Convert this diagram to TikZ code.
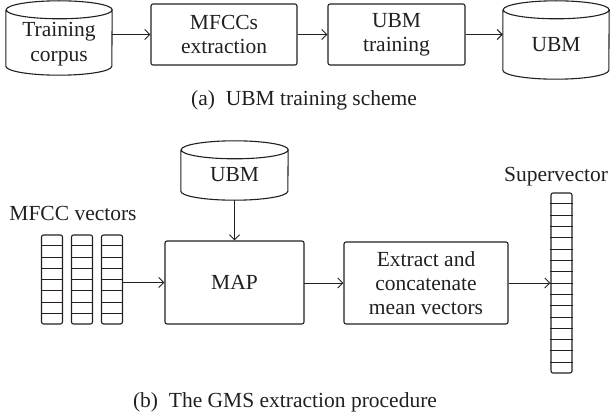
\documentclass[tikz,border=0pt]{standalone}
\usepackage{fontspec}
\setmainfont{Liberation Serif}
\usetikzlibrary{arrows.meta,calc}
\definecolor{ink}{HTML}{231F20}

\tikzset{
  txt/.style={text=ink, font=\fontsize{21.5}{24}\selectfont, align=center, inner sep=0pt},
  block/.style={txt, draw=ink, line width=1.1pt, rounded corners=2pt},
  shell/.style={txt, draw=none},
  rim/.style={draw=ink, line width=1.1pt},
  stackbox/.style={draw=ink, line width=1.1pt, rounded corners=2pt, inner sep=0pt, minimum width=21pt},
  cell/.style={draw=ink, line width=0.9pt},
  flow/.style={draw=ink, line width=1pt, -{Straight Barb[length=5pt,width=10pt,line width=1pt]}},
}

% outline of a drum: full top ellipse, straight sides, lower half-ellipse at the bottom
\newcommand\drum[3]{% node, x radius, y radius
  \draw[rim] ([yshift=-#3]#1.north west) -- ([yshift=#3]#1.south west)
    arc[start angle=180, end angle=360, x radius=#2, y radius=#3]
    -- ([yshift=-#3]#1.north east)
    arc[start angle=0, end angle=180, x radius=#2, y radius=#3]
    arc[start angle=180, end angle=360, x radius=#2, y radius=#3];
}
% horizontal dividers of a vector column
\newcommand\cells[2]{% node, number of cells
  \pgfmathtruncatemacro\lastcell{#2-1}
  \foreach \i in {1,...,\lastcell}
    \draw[cell] ($(#1.north west)!\i/#2!(#1.south west)$) -- ($(#1.north east)!\i/#2!(#1.south east)$);
}

\begin{document}
\begin{tikzpicture}[x=1pt, y=-1pt]
\useasboundingbox (0,0) rectangle (610,417);

% ---- (a) UBM training scheme ----
\node[shell, minimum width=106pt, minimum height=74pt] (corpus) at (59,38) {};
\drum{corpus}{53pt}{9pt}
\node[txt, font=\fontsize{21.5}{25}\selectfont] (corpustxt) at (59,44.5) {Training\\corpus};

\node[block, minimum width=146pt, minimum height=61pt] (mfcc) at (224,34.5) {MFCCs\\extraction};
\node[block, minimum width=137pt, minimum height=61pt] (ubmtrain) at (396.5,34.5) {UBM\\training};

\node[shell, minimum width=106pt, minimum height=78pt] (ubm) at (556,40) {};
\drum{ubm}{53pt}{9pt}
\node[txt] (ubmtxt) at (556,44.5) {UBM};

\draw[flow] (corpus.east |- mfcc.west) -- (mfcc.west);
\draw[flow] (mfcc.east) -- (ubmtrain.west);
\draw[flow] (ubmtrain.east) -- (ubmtrain.east -| ubm.west);

\node[txt] (capa) at (304,100) {(a)\ \ UBM training scheme};

% ---- (b) GMS extraction procedure ----
\node[shell, minimum width=107pt, minimum height=59pt] (ubmb) at (234.5,170.5) {};
\drum{ubmb}{53.5pt}{9pt}
\node[txt] (ubmbtxt) at (234.5,175) {UBM};

\node[block, minimum width=139pt, minimum height=83pt] (map) at (234.5,282.5) {MAP};
\node[block, minimum width=164pt, minimum height=82pt] (extract) at (426,283) {Extract and\\concatenate\\mean vectors};

\node[txt] (mfcclabel) at (73,213) {MFCC vectors};
\foreach \k/\x in {1/52,2/82,3/112}
  \node[stackbox, minimum height=89pt] (mv\k) at (\x,279.5) {};
\cells{mv1}{8}
\cells{mv2}{8}
\cells{mv3}{8}

\node[txt] (svlabel) at (556,177) {Supervector};
\node[stackbox, minimum height=180pt] (sv) at (561.5,283) {};
\cells{sv}{16}

\draw[flow] (ubmb.south) -- (map.north);
\draw[flow] (map.west -| mv3.east) -- (map.west);
\draw[flow] (map.east) -- (extract.west -| map.east) -- (extract.west);
\draw[flow] (extract.east) -- (extract.east -| sv.west);

\node[txt] (capb) at (285,402) {(b)\ \ The GMS extraction procedure};
\end{tikzpicture}
\end{document}
